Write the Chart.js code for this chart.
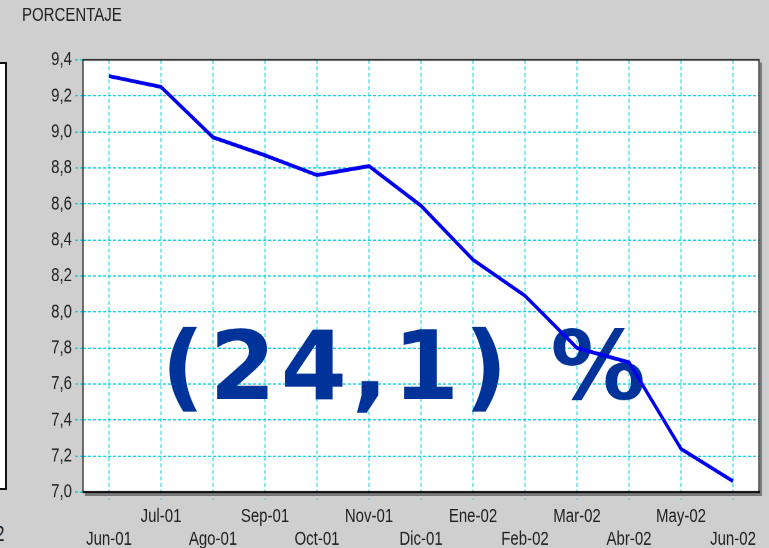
<!DOCTYPE html>
<html>
<head>
<meta charset="utf-8">
<script src="https://cdn.jsdelivr.net/npm/chart.js@4/dist/chart.umd.min.js"></script>
<style>
    html, body { margin: 0; padding: 0; }
    body {
        width: 769px;
        height: 548px;
        overflow: hidden;
        position: relative;
        background: #cfcfcf;
        font-family: "Liberation Sans", Arial, sans-serif;
    }
    #chart { position: absolute; left: 0; top: 0; }
    .prev-panel {
        position: absolute;
        left: -10px;
        top: 62px;
        width: 13px;
        height: 424px;
        background: #fff;
        border: 2px solid #111;
    }
    .prev-label {
        position: absolute;
        left: -5px;
        top: 524px;
        font-size: 17px;
        color: #222;
        transform: scaleY(1.3);
    }
</style>
</head>
<body>
<div class="prev-panel"></div>
<div class="prev-label">2</div>
<canvas id="chart" width="769" height="421" style="width:769px;height:548px"></canvas>
<script>
// 数据
const months = ['Jun-01', 'Jul-01', 'Ago-01', 'Sep-01', 'Oct-01', 'Nov-01', 'Dic-01',
                'Ene-02', 'Feb-02', 'Mar-02', 'Abr-02', 'May-02', 'Jun-02'];
const porcentaje = [9.31, 9.25, 8.97, 8.87, 8.76, 8.81, 8.59, 8.29, 8.09, 7.80, 7.72, 7.24, 7.06];
const yTickValues = [7.0, 7.2, 7.4, 7.6, 7.8, 8.0, 8.2, 8.4, 8.6, 8.8, 9.0, 9.2, 9.4];
const axisTitle = 'PORCENTAJE';
const bigText = '(24,1) %';

// 原图整体被纵向拉伸，画布按比例拉高
const STRETCH = 548 / 421;
const GRID_CYAN = '#14d2e2';

// 绘图区背景、边框、文字
const decorPlugin = {
    id: 'decor',
    beforeDraw(chart) {
        const { ctx, chartArea: a } = chart;
        ctx.save();
        ctx.fillStyle = '#ffffff';
        ctx.fillRect(a.left, a.top, a.right - a.left, a.bottom - a.top);
        ctx.restore();
    },
    beforeDatasetsDraw(chart) {
        const { ctx } = chart;
        ctx.save();
        ctx.scale(1, 1 / STRETCH);
        ctx.font = 'bold 95px "DejaVu Sans", Verdana, sans-serif';
        ctx.fillStyle = '#003399';
        ctx.textAlign = 'center';
        ctx.textBaseline = 'alphabetic';
        ctx.letterSpacing = '5px';
        ctx.fillText(bigText, 406, 399);
        ctx.restore();
    },
    afterDraw(chart) {
        const { ctx, chartArea: a } = chart;
        ctx.save();
        // 阴影
        ctx.strokeStyle = '#7a7a7a';
        ctx.lineWidth = 2;
        ctx.beginPath();
        ctx.moveTo(a.right + 2, a.top + 2);
        ctx.lineTo(a.right + 2, a.bottom + 2);
        ctx.lineTo(a.left + 2, a.bottom + 2);
        ctx.stroke();
        // 边框
        ctx.strokeStyle = '#2a2a2a';
        ctx.lineWidth = 1.3;
        ctx.strokeRect(a.left, a.top, a.right - a.left, a.bottom - a.top);
        ctx.strokeStyle = '#000';
        ctx.lineWidth = 1.6;
        ctx.beginPath();
        ctx.moveTo(a.left, a.bottom);
        ctx.lineTo(a.right + 1, a.bottom);
        ctx.stroke();
        // 轴标题
        ctx.fillStyle = '#222';
        ctx.font = '15px "Liberation Sans", Arial, sans-serif';
        ctx.textAlign = 'left';
        ctx.textBaseline = 'middle';
        ctx.fillText(axisTitle, 22, 11.9);
        ctx.restore();
    }
};

new Chart(document.getElementById('chart'), {
    type: 'line',
    data: {
        labels: months,
        datasets: [{
            data: porcentaje,
            borderColor: '#0000ee',
            borderWidth: 3,
            pointRadius: 0,
            tension: 0,
            fill: false
        }]
    },
    options: {
        responsive: false,
        devicePixelRatio: 2,
        animation: false,
        layout: { padding: { top: 46, right: 10, left: 0, bottom: 0 } },
        plugins: {
            legend: { display: false },
            tooltip: { enabled: false }
        },
        scales: {
            x: {
                type: 'category',
                offset: true,
                afterFit(scale) { scale.height = 43; },
                grid: {
                    offset: false,
                    color: GRID_CYAN,
                    lineWidth: 1,
                    tickLength: 6,
                    tickColor: GRID_CYAN,
                    tickBorderDash: [3, 2]
                },
                border: { display: false, dash: [3, 2] },
                ticks: {
                    autoSkip: false,
                    maxRotation: 0,
                    minRotation: 0,
                    padding: 4,
                    color: '#222',
                    font: { family: '"Liberation Sans", Arial, sans-serif', size: 15, lineHeight: 1.17 },
                    callback: function(value, index) {
                        return index % 2 === 0 ? ['', months[index]] : months[index];
                    }
                }
            },
            y: {
                min: 7.0,
                max: 9.4,
                afterFit(scale) { scale.width = 83; },
                afterBuildTicks(scale) {
                    scale.ticks = yTickValues.map(v => ({ value: v }));
                },
                grid: {
                    color: GRID_CYAN,
                    lineWidth: 1,
                    tickLength: 8,
                    tickColor: GRID_CYAN,
                    tickBorderDash: [3, 2]
                },
                border: { display: false, dash: [3, 2] },
                ticks: {
                    padding: 3,
                    color: '#222',
                    font: { family: '"Liberation Sans", Arial, sans-serif', size: 15 },
                    callback: function(value) {
                        return value.toFixed(1).replace('.', ',');
                    }
                }
            }
        }
    },
    plugins: [decorPlugin]
});
</script>
</body>
</html>
